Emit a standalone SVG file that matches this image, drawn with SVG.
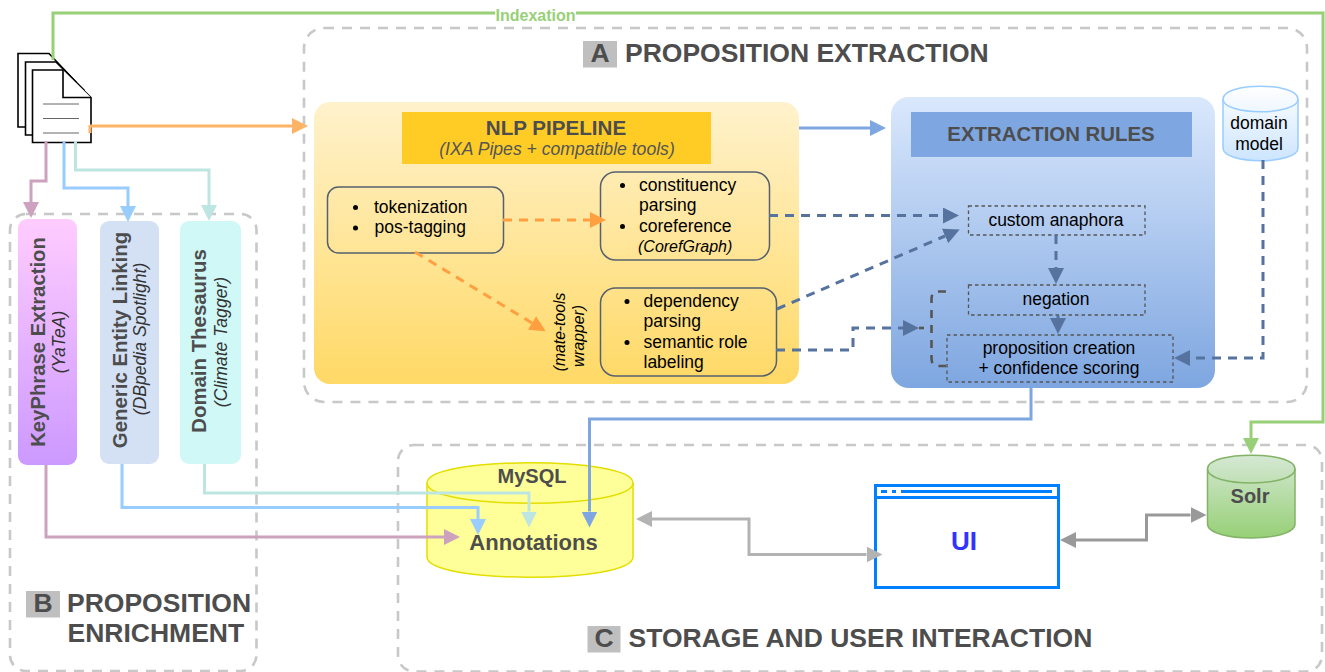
<svg xmlns="http://www.w3.org/2000/svg" width="1325" height="672" viewBox="0 0 1325 672">
<style>
text{font-family:"Liberation Sans",Arial,sans-serif;fill:#000}
.t{font-weight:bold;fill:#4d4d4d}
.sec{font-weight:bold;font-size:26.5px;fill:#4d4d4d}
.badge{font-weight:bold;font-size:26.5px;fill:#4d4d4d;text-anchor:middle}
.m{text-anchor:middle}
.i{font-style:italic}
.b{font-size:17.5px}
.region{fill:none;stroke:#c8c8c8;stroke-width:2.6;stroke-dasharray:10 8}
.box{stroke:#56606f;stroke-width:1.5;fill:none}
.dbox{fill:none;stroke:#555;stroke-width:1.3;stroke-dasharray:3.5 3}
.c{fill:none;stroke-width:3}
.d{stroke-dasharray:9 7}
</style>
<defs>
<linearGradient id="gNlp" x1="0" y1="0" x2="0" y2="1"><stop offset="0" stop-color="#fff2cc"/><stop offset="1" stop-color="#ffd966"/></linearGradient>
<linearGradient id="gExt" x1="0" y1="0" x2="0" y2="1"><stop offset="0" stop-color="#dae8fc"/><stop offset="1" stop-color="#7ea6e0"/></linearGradient>
<linearGradient id="gKey" x1="0" y1="0" x2="0" y2="1"><stop offset="0" stop-color="#ffccff"/><stop offset="1" stop-color="#cc99ff"/></linearGradient>
<linearGradient id="gDom" x1="0" y1="0" x2="0" y2="1"><stop offset="0" stop-color="#ffffff"/><stop offset="1" stop-color="#cce5ff"/></linearGradient>
<linearGradient id="gSolr" x1="0" y1="0" x2="0" y2="1"><stop offset="0" stop-color="#d5e8d4"/><stop offset="1" stop-color="#97d077"/></linearGradient>
<marker id="aOrange" markerUnits="userSpaceOnUse" markerWidth="17" markerHeight="17" refX="0" refY="8" orient="auto"><path d="M0 0L16 8L0 16Z" fill="#ffb366"/></marker>
<marker id="aMauve" markerUnits="userSpaceOnUse" markerWidth="17" markerHeight="17" refX="0" refY="8" orient="auto"><path d="M0 0L16 8L0 16Z" fill="#cda2be"/></marker>
<marker id="aBlue" markerUnits="userSpaceOnUse" markerWidth="17" markerHeight="17" refX="0" refY="8" orient="auto"><path d="M0 0L16 8L0 16Z" fill="#99ccff"/></marker>
<marker id="aTeal" markerUnits="userSpaceOnUse" markerWidth="17" markerHeight="17" refX="0" refY="8" orient="auto"><path d="M0 0L16 8L0 16Z" fill="#bde5e1"/></marker>
<marker id="aMid" markerUnits="userSpaceOnUse" markerWidth="17" markerHeight="17" refX="0" refY="8" orient="auto"><path d="M0 0L16 8L0 16Z" fill="#7ea6e0"/></marker>
<marker id="aDash" markerUnits="userSpaceOnUse" markerWidth="17" markerHeight="17" refX="0" refY="8" orient="auto"><path d="M0 0L16 8L0 16Z" fill="#56739f"/></marker>
<marker id="aOr2" markerUnits="userSpaceOnUse" markerWidth="17" markerHeight="17" refX="0" refY="8" orient="auto"><path d="M0 0L16 8L0 16Z" fill="#ff9f40"/></marker>
<marker id="aGreen" markerUnits="userSpaceOnUse" markerWidth="17" markerHeight="17" refX="0" refY="8" orient="auto"><path d="M0 0L16 8L0 16Z" fill="#97d077"/></marker>
<marker id="aGray" markerUnits="userSpaceOnUse" markerWidth="17" markerHeight="17" refX="0" refY="8" orient="auto-start-reverse"><path d="M0 0L16 8L0 16Z" fill="#b3b3b3"/></marker>
<marker id="aGray2" markerUnits="userSpaceOnUse" markerWidth="17" markerHeight="17" refX="0" refY="8" orient="auto-start-reverse"><path d="M0 0L16 8L0 16Z" fill="#999"/></marker>
</defs>
<rect width="1325" height="672" fill="#fff"/>

<g id="regions">
<rect class="region" x="304" y="28" width="1003" height="374" rx="20"/>
<rect class="region" x="10" y="214" width="246.500" height="457" rx="16"/>
<rect class="region" x="398" y="445" width="924" height="226.500" rx="16"/>
</g>

<g id="section-titles">
<rect x="583" y="41" width="34" height="26.500" fill="#bfbfbf"/><text class="badge" x="600" y="61.500">A</text>
<text class="sec" x="625" y="61.500">PROPOSITION EXTRACTION</text>
<rect x="26" y="591" width="34" height="26.500" fill="#bfbfbf"/><text class="badge" x="43" y="611.700">B</text>
<text class="sec" x="67" y="611.700">PROPOSITION</text><text class="sec" x="67.500" y="641.700">ENRICHMENT</text>
<rect x="587.500" y="626" width="33" height="26.500" fill="#bfbfbf"/><text class="badge" x="604" y="646.500">C</text>
<text class="sec" x="628.500" y="646.500">STORAGE AND USER INTERACTION</text>
</g>

<g id="documents" fill="#fff" stroke="#000" stroke-width="1.6">
<path d="M18 53.500H49L76 82V127H18Z"/>
<path d="M25.500 62H56L84 90V135H25.500Z"/>
<path d="M32.500 70H63L91 97.500V142.500H32.500Z"/>
<path d="M63 70V97.500H91" fill="#fff"/>
<path d="M43 104H79M43 118.500H79M43 133H79" stroke="#666" stroke-width="1"/>
</g>

<g id="nlp-pipeline">
<rect x="314" y="102" width="485" height="282" rx="16" fill="url(#gNlp)"/>
<rect x="402" y="112" width="309" height="52" fill="#ffcc26"/>
<text class="t m" x="556" y="135" font-size="20.600">NLP PIPELINE</text>
<text class="m i" x="557" y="155" font-size="17.600" style="fill:#555">(IXA Pipes + compatible tools)</text>
</g>
<g id="tokenization">
<rect class="box" x="327.500" y="187" width="176" height="66" rx="11"/>
<circle cx="355.500" cy="207.500" r="2.500"/><circle cx="355.500" cy="228" r="2.500"/>
<text class="b" x="374" y="212.500">tokenization</text><text class="b" x="374.500" y="233">pos-tagging</text>
</g>
<g id="constituency">
<rect class="box" x="600.500" y="172" width="169" height="88" rx="15"/>
<circle cx="622.500" cy="185.500" r="2.500"/><circle cx="622.500" cy="226.500" r="2.500"/>
<text class="b" x="639" y="190.500">constituency</text><text class="b" x="639" y="211">parsing</text><text class="b" x="639" y="231.500">coreference</text>
<text class="i" x="638" y="252" font-size="16">(CorefGraph)</text>
</g>
<g id="dependency">
<rect class="box" x="600.500" y="288" width="176" height="88" rx="15"/>
<circle cx="627" cy="301.500" r="2.500"/><circle cx="627" cy="342.500" r="2.500"/>
<text class="b" x="643.500" y="306.500">dependency</text><text class="b" x="643.500" y="327">parsing</text><text class="b" x="643.500" y="347.500">semantic role</text><text class="b" x="643.500" y="368">labeling</text>
</g>
<g id="mate-tools">
<text class="m i" transform="translate(564.500 332) rotate(-90)" font-size="15.700">(mate-tools</text>
<text class="m i" transform="translate(584 336) rotate(-90)" font-size="15.700">wrapper)</text>
</g>

<g id="extraction-rules">
<rect x="891" y="97" width="324" height="291" rx="18" fill="url(#gExt)"/>
<rect x="911" y="112" width="281" height="45" fill="#7ea6e0"/>
<text class="t m" x="1051" y="141" font-size="20.400">EXTRACTION RULES</text>
</g>
<g id="custom-anaphora"><rect class="dbox" x="968.500" y="206" width="176.500" height="29"/><text class="b m" x="1056" y="226">custom anaphora</text></g>
<g id="negation"><rect class="dbox" x="968.500" y="285" width="176.500" height="30"/><text class="b m" x="1056" y="305">negation</text></g>
<g id="proposition-creation"><rect class="dbox" x="947" y="335" width="226" height="47"/><text class="b m" x="1059" y="353.500">proposition creation</text><text class="b m" x="1059" y="374">+ confidence scoring</text></g>
<path id="brace" d="M946 291.500H938Q931.500 291.500 931.500 299V358Q931.500 366 938 366H946" fill="none" stroke="#555" stroke-width="2.600" stroke-dasharray="8 7"/>

<g id="domain-model">
<path d="M1223 99C1223 82 1298 82 1298 99V148C1298 165 1223 165 1223 148Z" fill="url(#gDom)" stroke="#99ccff" stroke-width="1.500"/>
<path d="M1223 99C1223 116 1298 116 1298 99" fill="none" stroke="#99ccff" stroke-width="1.500"/>
<text class="b m" x="1259" y="129">domain</text><text class="b m" x="1259" y="149.500">model</text>
</g>

<g id="keyphrase">
<rect x="18" y="219" width="59" height="246" rx="9" fill="url(#gKey)"/>
<text class="t m" transform="translate(45 342) rotate(-90)" font-size="20.300">KeyPhrase Extraction</text>
<text class="m i" transform="translate(65 342) rotate(-90)" font-size="17.600" style="fill:#333">(YaTeA)</text>
</g>
<g id="entity-linking">
<rect x="100" y="221" width="59" height="243" rx="9" fill="#d4e1f5"/>
<text class="t m" transform="translate(127 340) rotate(-90)" font-size="20.400">Generic Entity Linking</text>
<text class="m i" transform="translate(146 339) rotate(-90)" font-size="17.600" style="fill:#333">(DBpedia Spotlight)</text>
</g>
<g id="thesaurus">
<rect x="180" y="221" width="61" height="243" rx="9" fill="#cff8f7"/>
<text class="t m" transform="translate(206 341) rotate(-90)" font-size="20.400">Domain Thesaurus</text>
<text class="m i" transform="translate(227 342) rotate(-90)" font-size="17.600" style="fill:#333">(Climate Tagger)</text>
</g>

<g id="mysql">
<path d="M427 483C427 456 633 456 633 483V557C633 584 427 584 427 557Z" fill="#ffff99" stroke="#e3de00" stroke-width="1.500"/>
<path d="M427 483C427 510 633 510 633 483" fill="none" stroke="#e3de00" stroke-width="1.500"/>
<text class="t m" x="532" y="483" font-size="20">MySQL</text>
<text class="t m" x="533.500" y="550" font-size="22">Annotations</text>
</g>
<g id="ui">
<rect x="875.500" y="485.500" width="183" height="102" fill="#fff" stroke="#007fff" stroke-width="3"/>
<path d="M875.500 497.500H1058.500" stroke="#007fff" stroke-width="3"/>
<path d="M881 491.500H887M892 491.500H896M901 491.500H1052" stroke="#007fff" stroke-width="3"/>
<text class="m" x="964" y="550" font-size="26" font-weight="bold" style="fill:#3333ff">UI</text>
</g>
<g id="solr">
<path d="M1207.500 469C1207.500 450.500 1295 450.500 1295 469V524C1295 542.500 1207.500 542.500 1207.500 524Z" fill="url(#gSolr)" stroke="#82b366" stroke-width="1.500"/>
<path d="M1207.500 469C1207.500 487.500 1295 487.500 1295 469" fill="none" stroke="#82b366" stroke-width="1.500"/>
<text class="t m" x="1250" y="503" font-size="20">Solr</text>
</g>

<g id="connectors">
<path class="c" stroke="#97d077" d="M53 60V13H1323V422H1251V438" marker-end="url(#aGreen)"/>
<path class="c" stroke="#ffb366" d="M90 126H292" marker-end="url(#aOrange)"/>
<path d="M90 125V133" stroke="#ffb366" stroke-width="3" fill="none"/>
<path class="c" stroke="#cda2be" d="M46 141V181H31V202" marker-end="url(#aMauve)"/>
<path class="c" stroke="#99ccff" d="M64 141V188H128V206" marker-end="url(#aBlue)"/>
<path class="c" stroke="#bde5e1" d="M75.500 141V170H209V205" marker-end="url(#aTeal)"/>
<path class="c" stroke="#7ea6e0" d="M799 128H870" marker-end="url(#aMid)"/>
<path class="c d" stroke="#ff9f40" d="M503 220H590" marker-end="url(#aOr2)"/>
<path class="c d" stroke="#ff9f40" d="M415 252L532 323" marker-end="url(#aOr2)"/>
<path class="c d" stroke="#56739f" d="M769 215.500H943" marker-end="url(#aDash)"/>
<path class="c d" stroke="#56739f" d="M777 309L945 236" marker-end="url(#aDash)"/>
<path class="c d" stroke="#56739f" d="M776 350H853V328H903" marker-end="url(#aDash)"/>
<path d="M919 328H924" fill="none" stroke="#555" stroke-width="2.600"/>
<path class="c d" stroke="#56739f" d="M1056 235V268" marker-end="url(#aDash)"/>
<path class="c" stroke="#56739f" d="M1058 315V318" marker-end="url(#aDash)"/>
<path class="c d" stroke="#56739f" d="M1263 160V358H1190" marker-end="url(#aDash)"/>
<path class="c" stroke="#7ea6e0" d="M1031 388V419H589.500V511.500" marker-end="url(#aMid)"/>
<path class="c" stroke="#bde5e1" d="M204.500 464V493H529V511.500" marker-end="url(#aTeal)"/>
<path class="c" stroke="#99ccff" d="M122 464V507.500H478V519" marker-end="url(#aBlue)"/>
<path class="c" stroke="#cda2be" d="M46 465V537H444" marker-end="url(#aMauve)"/>
<path class="c" stroke="#b3b3b3" d="M652 519H749V554.500H866.500" marker-start="url(#aGray)" marker-end="url(#aGray)"/>
<path class="c" stroke="#999" d="M1076 540H1146.500V515H1190.500" marker-start="url(#aGray2)" marker-end="url(#aGray2)"/>
</g>
<g id="indexation-label">
<rect x="495" y="8" width="81" height="14" fill="#fff"/>
<text class="m" x="535.500" y="20.500" font-size="16" font-weight="bold" style="fill:#97d077">Indexation</text>
</g>
</svg>
